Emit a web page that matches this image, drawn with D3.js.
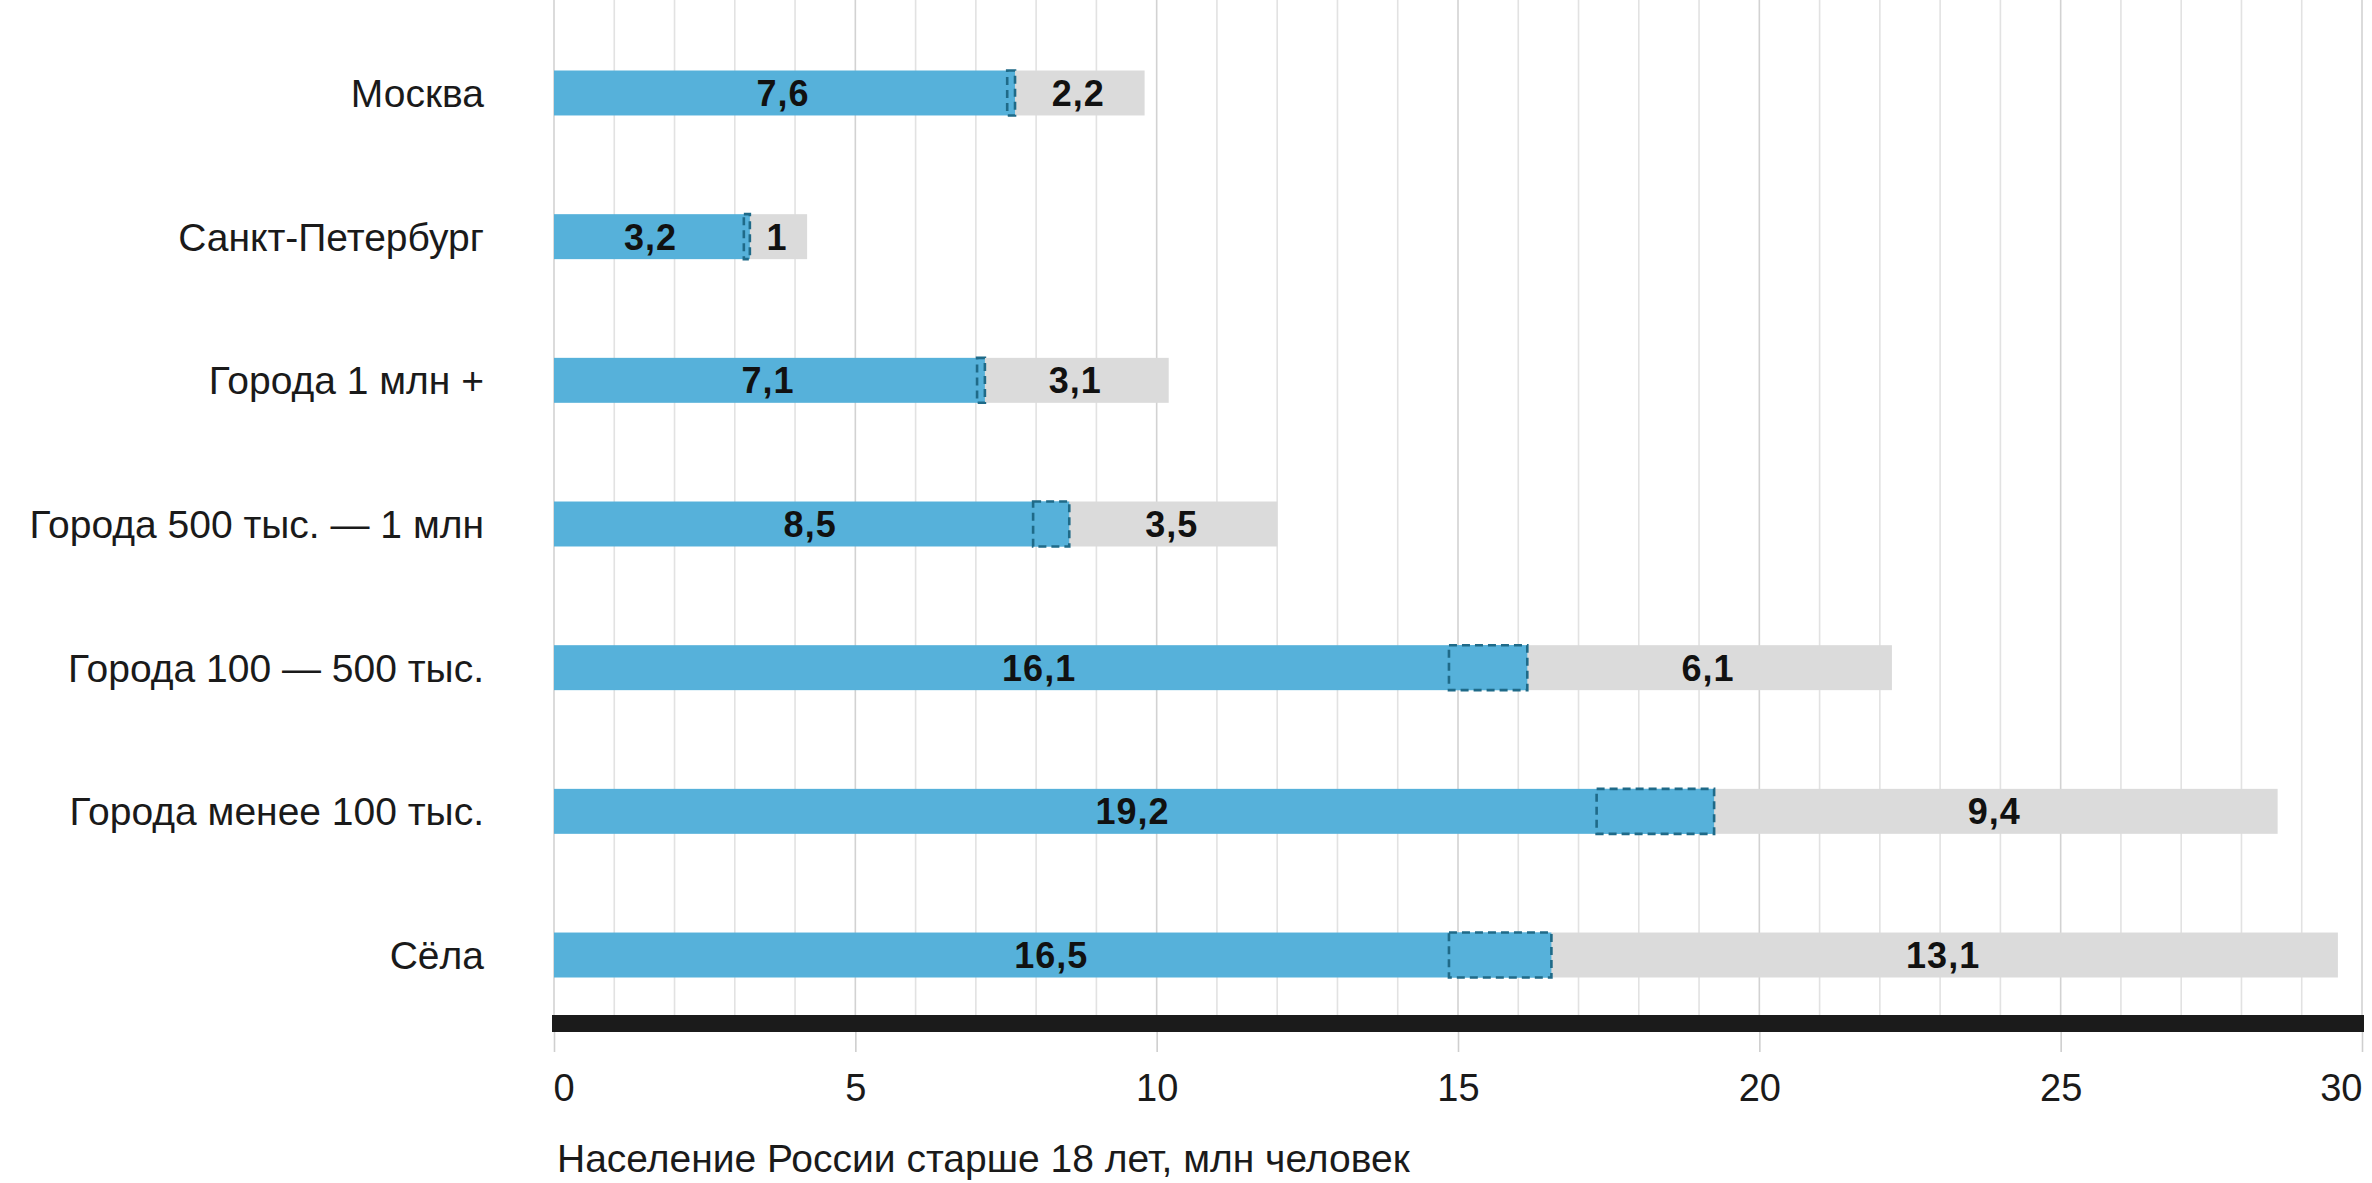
<!DOCTYPE html>
<html>
<head>
<meta charset="utf-8">
<script src="https://cdn.jsdelivr.net/npm/d3@7"></script>
<style>
  html, body { margin: 0; padding: 0; background: #ffffff; }
  svg { display: block; }
</style>
</head>
<body>
<svg id="chart" width="2372" height="1183"></svg>
<script>
// ---- data ----
const categories = [
  "Москва",
  "Санкт-Петербург",
  "Города 1 млн +",
  "Города 500 тыс. — 1 млн",
  "Города 100 — 500 тыс.",
  "Города менее 100 тыс.",
  "Сёла"
];
const blueValues = [7.6, 3.2, 7.1, 8.5, 16.1, 19.2, 16.5];
const grayValues = [2.2, 1, 3.1, 3.5, 6.1, 9.4, 13.1];
const dashedFrom = [7.52, 3.15, 7.02, 7.95, 14.85, 17.3, 14.85];
const tickValues = [0, 5, 10, 15, 20, 25, 30];
const axisTitle = "Население России старше 18 лет, млн человек";

// ---- layout ----
const svg = d3.select("#chart");
const x = d3.scaleLinear().domain([0, 30]).range([554, 2362]);
const y = d3.scaleBand().domain(categories).range([21.15, 1026.85])
  .paddingInner(0.687).paddingOuter(0.3435);

const BLUE = "#56b1da", GRAY = "#dbdbdb", DASH = "#1f6a88";
const fontMain = "'Liberation Sans', Arial, sans-serif";

// gridlines every unit
const axisTop = 1015, axisBottom = 1032;
svg.append("g").selectAll("line")
  .data(x.ticks(30))
  .join("line")
  .attr("x1", d => x(d)).attr("x2", d => x(d))
  .attr("y1", 0).attr("y2", axisTop)
  .attr("stroke", d => d % 5 === 0 ? "#d2d2d2" : "#e2e2e2")
  .attr("stroke-width", 1.6);

// bars
const rows = categories.map((c, i) => ({
  c, b: blueValues[i], g: grayValues[i], f: dashedFrom[i]
}));
const gBars = svg.append("g");
gBars.selectAll("rect.gray").data(rows).join("rect").attr("class", "gray")
  .attr("x", d => x(d.b)).attr("width", d => x(d.b + d.g) - x(d.b))
  .attr("y", d => y(d.c)).attr("height", y.bandwidth())
  .attr("fill", GRAY);
gBars.selectAll("rect.blue").data(rows).join("rect").attr("class", "blue")
  .attr("x", x(0)).attr("width", d => x(d.b) - x(0))
  .attr("y", d => y(d.c)).attr("height", y.bandwidth())
  .attr("fill", BLUE);
gBars.selectAll("rect.dash").data(rows).join("rect").attr("class", "dash")
  .attr("x", d => x(d.f)).attr("width", d => Math.max(3, x(d.b) - x(d.f) + 3))
  .attr("y", d => y(d.c)).attr("height", y.bandwidth())
  .attr("fill", BLUE)
  .attr("stroke", DASH).attr("stroke-width", 2.6)
  .attr("stroke-dasharray", "8,5");

// value labels
const gVals = svg.append("g")
  .attr("font-family", fontMain).attr("font-weight", "bold")
  .attr("font-size", 36).attr("letter-spacing", 1)
  .attr("fill", "#111").attr("text-anchor", "middle");
gVals.selectAll("text.bv").data(rows).join("text").attr("class", "bv")
  .attr("x", d => (x(0) + x(d.b)) / 2)
  .attr("y", d => y(d.c) + y.bandwidth() / 2).attr("dy", "0.36em")
  .text(d => String(d.b).replace(".", ","));
gVals.selectAll("text.gv").data(rows).join("text").attr("class", "gv")
  .attr("x", d => (x(d.b) + x(d.b + d.g)) / 2)
  .attr("y", d => y(d.c) + y.bandwidth() / 2).attr("dy", "0.36em")
  .text(d => String(d.g).replace(".", ","));

// category labels
svg.append("g").attr("font-family", fontMain).attr("font-size", 39)
  .attr("fill", "#1a1a1a").attr("text-anchor", "end")
  .selectAll("text").data(categories).join("text")
  .attr("x", 484)
  .attr("y", d => y(d) + y.bandwidth() / 2).attr("dy", "0.36em")
  .text(d => d);

// axis: thick black baseline
svg.append("rect")
  .attr("x", x(0) - 2).attr("width", x(30) - x(0) + 4)
  .attr("y", axisTop).attr("height", axisBottom - axisTop)
  .attr("fill", "#1b1b1b");

// ticks + labels via d3 axis
const axisG = svg.append("g")
  .attr("transform", `translate(0,${axisBottom})`)
  .call(d3.axisBottom(x).tickValues(tickValues).tickSize(20).tickPadding(22)
    .tickFormat(d => String(d)));
axisG.select(".domain").remove();
axisG.selectAll(".tick line").attr("stroke", "#cfcfcf").attr("stroke-width", 1.6);
axisG.selectAll(".tick text")
  .attr("font-family", fontMain).attr("font-size", 38).attr("fill", "#1a1a1a")
  .attr("text-anchor", (d, i) => i === 0 ? "start" : (i === tickValues.length - 1 ? "end" : "middle"))
  .attr("dx", (d, i) => i === 0 ? -1 : 0);

// axis title
svg.append("text")
  .attr("x", x(0) + 3).attr("y", 1172)
  .attr("font-family", fontMain).attr("font-size", 39).attr("fill", "#1a1a1a")
  .text(axisTitle);
</script>
</body>
</html>
